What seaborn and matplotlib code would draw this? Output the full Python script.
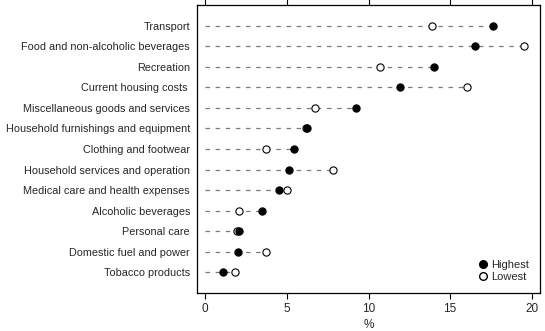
import numpy as np
import pandas as pd
import seaborn as sns
import matplotlib.pyplot as plt
from matplotlib.lines import Line2D

categories = [
    "Transport",
    "Food and non-alcoholic beverages",
    "Recreation",
    "Current housing costs ",
    "Miscellaneous goods and services",
    "Household furnishings and equipment",
    "Clothing and footwear",
    "Household services and operation",
    "Medical care and health expenses",
    "Alcoholic beverages",
    "Personal care",
    "Domestic fuel and power",
    "Tobacco products",
]
highest = [17.6, 16.5, 14.0, 11.9, 9.25, 6.25, 5.45, 5.15, 4.5, 3.45, 2.05, 2.0, 1.1]
lowest = [13.9, 19.5, 10.7, 16.0, 6.7, 6.2, 3.7, 7.85, 5.0, 2.05, 1.95, 3.7, 1.85]
series_labels = ["Highest", "Lowest"]
x_ticks = [0, 5, 10, 15, 20]
x_label = "%"

sns.set_theme(style="white")
plt.rcParams['font.family'] = ['Liberation Sans', 'DejaVu Sans']

fig = plt.figure(figsize=(5.45, 3.31), dpi=100)
ax = fig.add_axes([197 / 545, 1 - 293 / 331, (540 - 197) / 545, (293 - 5) / 331])

pos = np.arange(len(categories))
ax.hlines(pos, 0, np.maximum(highest, lowest), colors="#7a7a7a",
          linestyles=(0, (3.6, 4.5)), lw=0.9, zorder=1)

df_low = pd.DataFrame({"category": categories, "value": lowest})
df_high = pd.DataFrame({"category": categories, "value": highest})

sns.stripplot(data=df_low, x="value", y="category", order=categories,
              color="white", jitter=False, size=5.2, linewidth=0.8,
              edgecolor="black", ax=ax, zorder=3)
sns.stripplot(data=df_high, x="value", y="category", order=categories,
              color="black", jitter=False, size=5.2, linewidth=0.8,
              edgecolor="black", ax=ax, zorder=4)

ax.set_xlim(-0.5, 20.5)
ax.set_ylim(len(categories), -1)
ax.set_xticks(x_ticks)
ax.set_xticklabels([str(t) for t in x_ticks], fontsize=8.5)
ax.set_yticks(pos)
ax.set_yticklabels(categories, fontsize=7.8)
ax.set_xlabel(x_label, fontsize=8.5, labelpad=3)
ax.set_ylabel("")
ax.tick_params(axis="x", which="both", direction="out", length=4, width=0.8,
               color="black", top=True, bottom=True, labeltop=False, pad=3)
ax.tick_params(axis="y", length=0, pad=5)
for s in ax.spines.values():
    s.set_visible(True)
    s.set_color("black")
    s.set_linewidth(0.9)

handles = [
    Line2D([], [], marker="o", linestyle="none", markerfacecolor="black",
           markeredgecolor="black", markersize=5.5),
    Line2D([], [], marker="o", linestyle="none", markerfacecolor="white",
           markeredgecolor="black", markersize=5.5),
]
ax.legend(handles, series_labels, loc="lower right", frameon=False, fontsize=8,
          handletextpad=0.1, labelspacing=0.15, borderaxespad=0.6, handlelength=1.2)

fig.savefig("out.png", dpi=100)
